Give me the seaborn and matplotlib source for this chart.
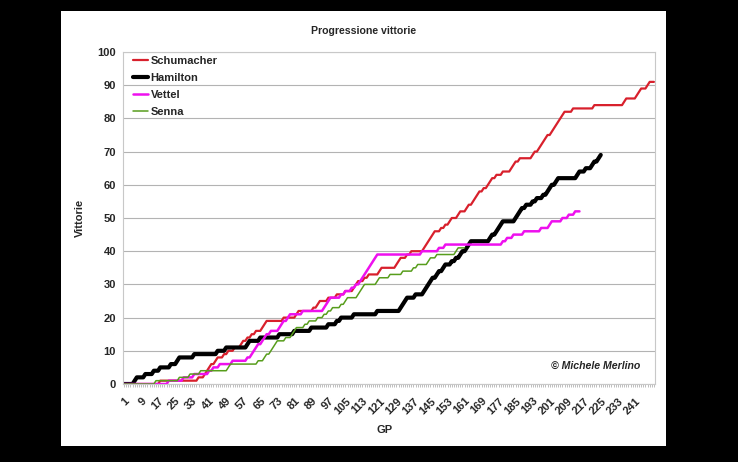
import numpy as np
import pandas as pd
import matplotlib
matplotlib.use("Agg")
import matplotlib.pyplot as plt
import seaborn as sns
from matplotlib.patches import Rectangle
from matplotlib.ticker import FixedLocator

# GP number (career count) at which each win came
schumacher_wins = [18, 36, 39, 40, 41, 42, 44, 45, 48, 50,
                   53, 56, 57, 59, 61, 63, 66, 67, 68,
                   76, 82, 83, 90, 92, 93, 97, 101,
                   105, 109, 110, 111, 114, 116, 121, 122,
                   129, 130, 131, 134, 136, 142, 143, 144, 145,
                   146, 147, 150, 152, 154, 155, 158, 159, 162,
                   163, 165, 166, 167, 168, 170, 172, 173, 174, 176, 179,
                   183, 184, 185, 187, 193, 194,
                   196, 197, 198, 199, 200, 202, 203, 204, 205, 206, 207, 208, 212,
                   222, 236, 237, 242, 243, 244, 247, 248]
hamilton_wins = [6, 7, 11, 15, 18, 23, 26, 27, 34, 45, 49, 59, 60, 65,
                 74, 81, 89, 97, 101, 103, 109, 120,
                 131, 132, 133, 134, 138, 142, 143, 144, 145, 146, 148,
                 149, 151, 152, 155, 157, 159, 160, 162, 163, 164,
                 173, 174, 176, 177, 178, 179, 185, 186, 187, 188,
                 190, 193, 195, 198, 200, 201, 202, 204, 205,
                 214, 215, 218, 221, 222, 224, 225]
vettel_wins = [22, 29, 34, 41, 43, 46, 52, 59, 61, 62,
               63, 64, 66, 67, 68, 70, 74, 75, 76, 78, 79,
               85, 95, 96, 97, 98,
               103, 105, 108, 110, 112, 113, 114, 115, 116, 117, 118, 119, 120,
               141, 149, 152, 179, 181, 184, 189, 197,
               201, 202, 207, 210, 213]
senna_wins = [16, 27, 32, 37, 50, 51,
              64, 67, 68, 70, 71, 72, 73, 77,
              80, 81, 82, 86, 88, 92,
              95, 97, 99, 103, 105, 106,
              111, 112, 113, 114, 120, 121, 126,
              132, 137, 139, 144, 145, 148, 157, 158]

drivers = ["Schumacher", "Hamilton", "Vettel", "Senna"]
gp_totals = [250, 225, 215, 161]
win_lists = [schumacher_wins, hamilton_wins, vettel_wins, senna_wins]
colors = ["#D8202C", "#000000", "#EE10EE", "#579D1C"]
widths = [1.6, 3.0, 1.8, 1.1]
gp_tick_labels = list(range(1, 242, 8))

rows = []
for name, n, wins in zip(drivers, gp_totals, win_lists):
    gp = np.arange(1, n + 1)
    count = np.searchsorted(np.sort(wins), gp, side="right")
    rows.append(pd.DataFrame({"GP": gp, "Vittorie": count, "Pilota": name}))
df = pd.concat(rows, ignore_index=True)

sns.set_style("white")
plt.rcParams["font.family"] = ["Liberation Sans", "DejaVu Sans"]

W, H = 738, 462
fig = plt.figure(figsize=(W / 100, H / 100), dpi=100, facecolor="black")
fig.patches.append(Rectangle((61 / W, 1 - 446 / H), (666 - 61) / W, (446 - 11) / H,
                             transform=fig.transFigure, facecolor="white",
                             edgecolor="none", zorder=-1))

ax = fig.add_axes([123 / W, 1 - 384 / H, (655 - 123) / W, (384 - 52) / H])
ax.set_facecolor("white")

sns.lineplot(data=df, x="GP", y="Vittorie", hue="Pilota", size="Pilota",
             hue_order=drivers, size_order=drivers,
             palette=dict(zip(drivers, colors)),
             sizes=dict(zip(drivers, widths)),
             ax=ax, legend=True)

ax.set_xlim(0.5, 250.5)
ax.set_ylim(0, 100)
ax.set_yticks(np.arange(0, 101, 10))
ax.yaxis.grid(True, color="#b3b3b3", lw=0.8)
ax.set_axisbelow(True)
for s in ax.spines.values():
    s.set_color("#c8c8c8")
    s.set_linewidth(0.8)

ax.xaxis.set_major_locator(FixedLocator(gp_tick_labels))
ax.xaxis.set_minor_locator(FixedLocator(np.arange(1, 251)))
ax.set_xticklabels([str(v) for v in gp_tick_labels], rotation=45, ha="right",
                   rotation_mode="anchor", fontsize=8, fontweight="bold")
ax.tick_params(axis="x", which="both", length=2.5, color="#b3b3b3", width=0.6,
               bottom=True, pad=6)
ax.tick_params(axis="y", length=0, pad=5)
for t in ax.get_yticklabels():
    t.set_fontsize(8)
    t.set_fontweight("bold")

ax.set_xlabel("")
ax.set_ylabel("")
fig.text(363.5 / W, 1 - 31 / H, "Progressione vittorie", ha="center", va="center",
         fontsize=7.6, fontweight="bold")
fig.text(80 / W, 1 - 218 / H, "Vittorie", ha="center", va="center", rotation=90,
         fontsize=8, fontweight="bold")
fig.text(385 / W, 1 - 430 / H, "GP", ha="center", va="center",
         fontsize=8, fontweight="bold")
fig.text(640 / W, 1 - 366 / H, "© Michele Merlino", ha="right", va="center",
         fontsize=7.6, fontweight="bold", style="italic")

leg = ax.legend(loc="upper left", bbox_to_anchor=(0.012, 1.0), frameon=False,
                handlelength=1.3, handletextpad=0.25, labelspacing=0.62,
                borderaxespad=0.05, borderpad=0.3,
                prop={"weight": "bold", "size": 8})

fig.savefig("out.png", dpi=100, facecolor="black")
